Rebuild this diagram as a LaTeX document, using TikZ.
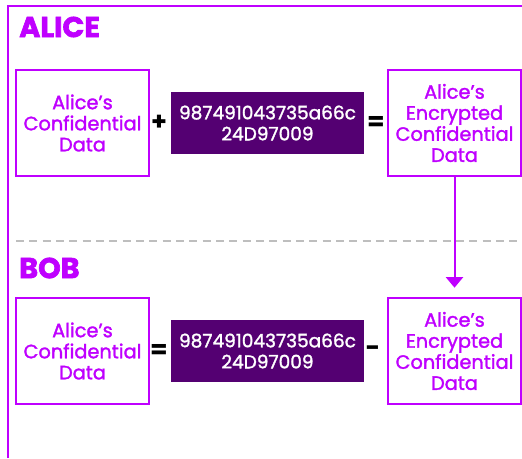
\documentclass[tikz,border=0pt]{standalone}
\usepackage{fontspec}
\setmainfont{Poppins}
\newfontfamily\medfont{Poppins}[FakeBold=1.6]
\newfontfamily\heavyfont{Poppins}[UprightFont=*-Bold, FakeBold=2.2]
\usetikzlibrary{arrows.meta}

\definecolor{linepurple}{RGB}{191,0,255}
\definecolor{keypurple}{RGB}{84,0,114}
\definecolor{dashgray}{RGB}{190,190,190}

\tikzset{
  databox/.style={draw=linepurple, line width=1.5pt, fill=white,
    text=linepurple, align=center, inner sep=0pt,
    minimum width=99.75pt, minimum height=79.5pt,
    font=\medfont\fontsize{14.5}{15.8}\selectfont},
  keybox/.style={fill=keypurple, text=white, align=center, inner sep=0pt,
    minimum width=144.75pt, minimum height=46.5pt,
    font=\medfont\fontsize{13.9}{15.8}\selectfont},
  oper/.style={text=black, inner sep=0pt, font=\fontsize{19}{19}\bfseries},
  title/.style={text=linepurple, anchor=west, inner sep=0pt,
    font=\heavyfont\fontsize{21.5}{21.5}\selectfont}
}

\begin{document}
\begin{tikzpicture}[x=0.75pt,y=-0.75pt]
  %% Page size, in pixels of the reference.
  \def\W{522}
  \def\H{458}
  %% Rows of the two parties.
  \def\rowA{123}
  \def\rowB{351}
  \useasboundingbox (0,0) rectangle (\W,\H);

  %% The frame round the whole sheet.
  \draw[linepurple, line width=1.5pt] (8,\H) -- (8,6) -- (\W+2,6);

  %% The line that splits Alice from Bob.
  \draw[dashgray, line width=1.5pt, dash pattern=on 6pt off 4pt] (16,241) -- (\W,241);

  %% Alice's side.
  \node[title] (alice) at (19,27) {ALICE};
  \node[databox] (plainA) at (82.5,\rowA) {Alice’s\\Confidential\\Data};
  \node[oper] (plus) at (159,\rowA) {+};
  \node[keybox] (keyA) at (267.5,\rowA) {987491043735a66c\\24D97009};
  \node[oper] (eqA) at (376,\rowA) {=};
  \node[databox] (encA) at (454.5,\rowA) {Alice’s\\Encrypted\\Confidential\\Data};

  %% Bob's side.
  \node[title] (bob) at (19,268) {BOB};
  \node[databox] (plainB) at (82.5,\rowB) {Alice’s\\Confidential\\Data};
  \node[oper] (eqB) at (159,\rowB) {=};
  \node[keybox] (keyB) at (267.5,\rowB) {987491043735a66c\\24D97009};
  \node[oper] (minus) at (373,\rowB) {-};
  \node[databox] (encB) at (454.5,\rowB) {Alice’s\\Encrypted\\Confidential\\Data};

  %% Sending the encrypted data over to Bob.
  \draw[linepurple, line width=1.5pt, shorten >=7pt,
    -{Triangle[width=13pt, length=8pt]}] (encA) -- (encB);
\end{tikzpicture}
\end{document}
